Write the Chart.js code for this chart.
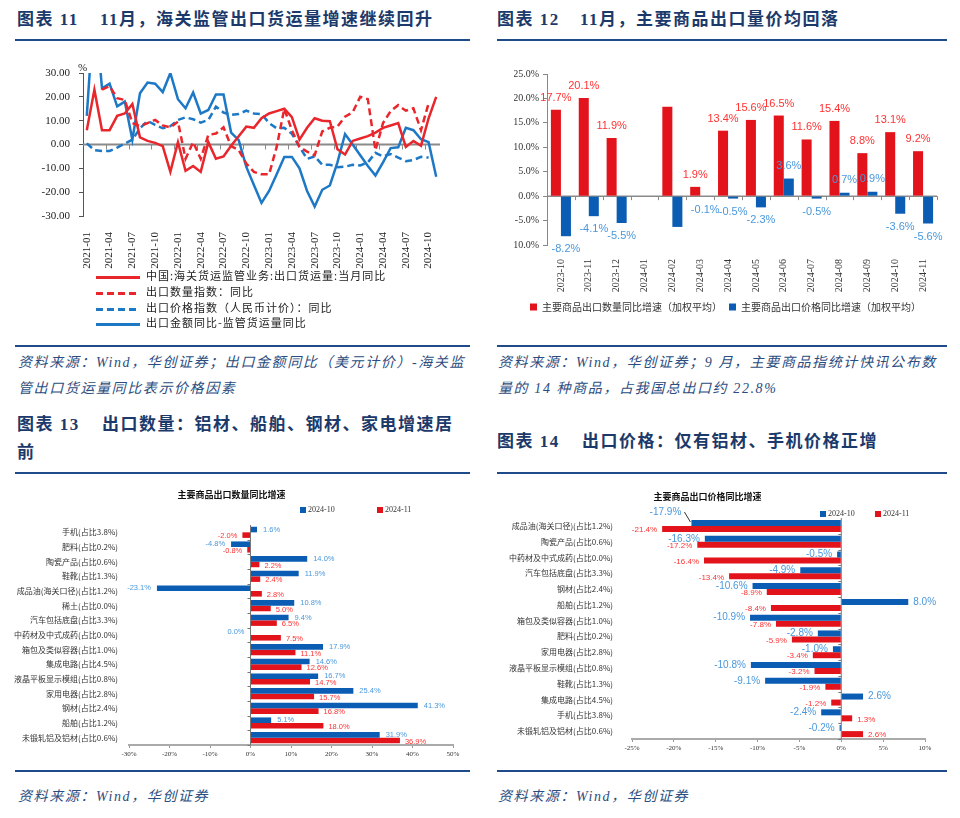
<!DOCTYPE html>
<html>
<head>
<meta charset="utf-8">
<script src="https://cdn.jsdelivr.net/npm/chart.js@4.4.1/dist/chart.umd.min.js"></script>
<style>
  body { margin: 0; background: #fff; }
  #page { position: relative; width: 960px; height: 818px; overflow: hidden; font-family: "Liberation Serif", "Noto Sans CJK SC", serif; }
  .ttl { position: absolute; font-weight: bold; font-size: 17px; letter-spacing: 1.5px; color: #1B3A6B; white-space: nowrap; line-height: 28px; }
  .rule { position: absolute; height: 2px; background: #1F4B8A; }
  .src { position: absolute; font-style: italic; font-size: 14px; letter-spacing: 1.6px; color: #2C4D80; line-height: 26px; white-space: nowrap; }
  .box { position: absolute; }
  .lg { position: absolute; left: 96px; height: 16px; line-height: 16px; font-family: "Noto Sans CJK SC"; font-size: 11px; letter-spacing: 1px; color: #222; white-space: nowrap; }
  .lg i { display: inline-block; width: 44px; height: 3px; vertical-align: middle; margin-right: 6px; }
  .lg2 { position: absolute; font-size: 8px; color: #333; white-space: nowrap; line-height: 10px; }
  .lg2 i { display: inline-block; width: 6px; height: 6px; margin-right: 2px; vertical-align: -0.5px; }
</style>
</head>
<body>
<div id="page">
  <div class="ttl" style="left:17px;top:6px">图表 11</div>
  <div class="ttl" style="left:100px;top:6px">11月，海关监管出口货运量增速继续回升</div>
  <div class="rule" style="left:15px;top:39px;width:455px"></div>
  <div class="ttl" style="left:497px;top:6px">图表 12</div>
  <div class="ttl" style="left:580px;top:6px">11月，主要商品出口量价均回落</div>
  <div class="rule" style="left:497px;top:39px;width:450px"></div>

  <div class="box" style="left:10px;top:45px"><canvas id="c11" width="460" height="225"></canvas></div>
  <div style="position:absolute;left:78px;top:61px;font-size:11px;color:#222">%</div>
  <div class="lg" style="top:267px"><i style="background:#E8262C"></i>中国:海关货运监管业务:出口货运量:当月同比</div>
  <div class="lg" style="top:283px"><i style="background:repeating-linear-gradient(90deg,#E8262C 0 7px,transparent 7px 11px)"></i>出口数量指数：同比</div>
  <div class="lg" style="top:299px"><i style="background:repeating-linear-gradient(90deg,#1D78C6 0 7px,transparent 7px 11px)"></i>出口价格指数（人民币计价）：同比</div>
  <div class="lg" style="top:314px"><i style="background:#1D78C6"></i>出口金额同比-监管货运量同比</div>

  <div class="box" style="left:490px;top:45px"><canvas id="c12" width="460" height="290"></canvas></div>

  <div class="rule" style="left:15px;top:345px;width:455px"></div>
  <div class="src" style="left:18px;top:350px">资料来源：Wind，华创证券；出口金额同比（美元计价）-海关监<br>管出口货运量同比表示价格因素</div>
  <div class="rule" style="left:497px;top:345px;width:450px"></div>
  <div class="src" style="left:498px;top:350px">资料来源：Wind，华创证券；9 月，主要商品指统计快讯公布数<br>量的 14 种商品，占我国总出口约 22.8%</div>

  <div class="ttl" style="left:17px;top:411px">图表 13</div>
  <div class="ttl" style="left:102px;top:411px">出口数量：铝材、船舶、钢材、家电增速居</div>
  <div class="ttl" style="left:17px;top:439px">前</div>
  <div class="rule" style="left:15px;top:472px;width:455px"></div>
  <div class="ttl" style="left:497px;top:428px">图表 14</div>
  <div class="ttl" style="left:582px;top:428px">出口价格：仅有铝材、手机价格正增</div>
  <div class="rule" style="left:497px;top:472px;width:450px"></div>

  <div class="box" style="left:10px;top:478px"><canvas id="c13" width="460" height="285"></canvas></div>
  <div class="lg2" style="left:300px;top:505px"><i style="background:#0B5DB4"></i>2024-10</div>
  <div class="lg2" style="left:377px;top:505px"><i style="background:#E3131B"></i>2024-11</div>
  <div class="box" style="left:490px;top:478px"><canvas id="c14" width="460" height="285"></canvas></div>
  <div class="lg2" style="left:820px;top:509px"><i style="background:#0B5DB4"></i>2024-10</div>
  <div class="lg2" style="left:875px;top:509px"><i style="background:#E3131B"></i>2024-11</div>

  <div class="rule" style="left:15px;top:770px;width:455px"></div>
  <div class="src" style="left:18px;top:784px">资料来源：Wind，华创证券</div>
  <div class="rule" style="left:497px;top:770px;width:450px"></div>
  <div class="src" style="left:498px;top:784px">资料来源：Wind，华创证券</div>
</div>

<script>
// ---- 图表11 数据 ----
const months11 = [
  '2021-01','2021-02','2021-03','2021-04','2021-05','2021-06','2021-07','2021-08','2021-09','2021-10','2021-11','2021-12',
  '2022-01','2022-02','2022-03','2022-04','2022-05','2022-06','2022-07','2022-08','2022-09','2022-10','2022-11','2022-12',
  '2023-01','2023-02','2023-03','2023-04','2023-05','2023-06','2023-07','2023-08','2023-09','2023-10','2023-11','2023-12',
  '2024-01','2024-02','2024-03','2024-04','2024-05','2024-06','2024-07','2024-08','2024-09','2024-10','2024-11'
];
const cargoVolume = [6, 23, 6, 6, 12, 13, 17, 3, 1.5, 0.7, -0.7, -11.5,
  1, -11, -9, -11.5, 1, -6, -5, -0.5, 3.5, 7.5, 7, 11,
  13, 14, 15, 11.5, 2, 7, 11, 10, 9.8, -2, -4.2, 1.5,
  2.5, 3.5, 5, 7, 8, 9, -1, 1.5, -0.5, 11, 20];
const qtyIndex = [null, null, 23, 24.5, 19.4, 18.7, 9, 7.7, 9, 10.3, 8, 7.2,
  9.6, -6, 1, -6, 4, 4.6, 7.2, -0.7, -2.4, -8, -11.5, -12.5,
  -12.5, -1, 15, 6, -1, -3, -4.5, 5.5, 7, 7.5, 11.7, 13.5,
  20, 19, -2.4, 9, 14, 16.5, 14.2, 15.2, 6, 17.3, null];
const priceIndex = [0.5, -2.4, -2.7, -2.7, -1.3, 0.4, 2, 6.8, 9.9, 8.2, 6.8, 7.7,
  10.3, 11.4, 10.6, 9.2, 10.3, 15.9, 13.4, 12.4, 12.8, 14.2, 13, 12.8,
  9, 6.8, 7, 4.5, -1, -6, -5, -8.5, -8.5, -9.5, -9.3, -8.5,
  -8.8, -7.5, -3.5, -5, -4, -5.5, -7, -6.5, -5.2, -5.5, null];
const valueMinusVolume = [12, 60, 23.6, 25.5, 16, 18, 2, 21.5, 26, 25.5, 22, 30,
  19, 15.2, 21.8, 13, 14.5, 21, 21, 5, 1.8, -9.4, -17, -24.5,
  -19.5, -12.5, -5.2, -5.2, -10, -19.5, -26, -19, -17.2, -7.5, 4.4, 0,
  -4.5, -9, -13, -7.5, -1.5, -1.2, 7, 6, 2.2, 1, -13.5];

// ---- 图表12 数据 ----
const months12 = ['2023-10','2023-11','2023-12','2024-01','2024-02','2024-03','2024-04',
  '2024-05','2024-06','2024-07','2024-08','2024-09','2024-10','2024-11'];
const qty12 = [17.7, 20.1, 11.9, null, 18.3, 1.9, 13.4, 15.6, 16.5, 11.6, 15.4, 8.8, 13.1, 9.2];
const price12 = [-8.2, -4.1, -5.5, null, -6.3, -0.1, -0.5, -2.3, 3.6, -0.5, 0.7, 0.9, -3.6, -5.6];
const unlabeled12 = ['2024-02'];

// ---- 图表13 数据 ----
const goods13 = ['手机(占比3.8%)','肥料(占比0.2%)','陶瓷产品(占比0.6%)','鞋靴(占比1.3%)','成品油(海关口径)(占比1.2%)',
  '稀土(占比0.0%)','汽车包括底盘(占比3.3%)','中药材及中式成药(占比0.0%)','箱包及类似容器(占比1.0%)','集成电路(占比4.5%)',
  '液晶平板显示模组(占比0.8%)','家用电器(占比2.8%)','钢材(占比2.4%)','船舶(占比1.2%)','未锻轧铝及铝材(占比0.6%)'];
const oct13 = [1.6, -4.8, 14.0, 11.9, -23.1, 10.8, 9.4, 0.0, 17.9, 14.6, 16.7, 25.4, 41.3, 5.1, 31.9];
const nov13 = [-2.0, -0.8, 2.2, 2.4, 2.8, 5.0, 6.5, 7.5, 11.1, 12.6, 14.7, 15.7, 16.8, 18.0, 36.9];

// ---- 图表14 数据 ----
const goods14 = ['成品油(海关口径)(占比1.2%)','陶瓷产品(占比0.6%)','中药材及中式成药(占比0.0%)','汽车包括底盘(占比3.3%)',
  '钢材(占比2.4%)','船舶(占比1.2%)','箱包及类似容器(占比1.0%)','肥料(占比0.2%)','家用电器(占比2.8%)',
  '液晶平板显示模组(占比0.8%)','鞋靴(占比1.3%)','集成电路(占比4.5%)','手机(占比3.8%)','未锻轧铝及铝材(占比0.6%)'];
const oct14 = [-17.9, -16.3, -0.5, -4.9, -10.6, 8.0, -10.9, -2.8, -1.0, -10.8, -9.1, 2.6, -2.4, -0.2];
const nov14 = [-21.4, -17.2, -16.4, -13.4, -8.9, -8.4, -7.8, -5.9, -3.4, -3.2, -1.9, -1.2, 1.3, 2.6];

const RED_LINE = '#E8262C', BLUE_LINE = '#1D78C6';
const RED_BAR = '#E3131B', BLUE_BAR = '#0B5DB4';
const LBL_RED = '#FF3232', LBL_BLUE = '#4A98DC';
const CJK = '"Noto Sans CJK SC"';

Chart.defaults.font.family = '"Liberation Serif", "Noto Sans CJK SC", serif';
Chart.defaults.color = '#222';
Chart.defaults.animation = false;
Chart.defaults.events = [];

// 零轴线 + 分类边界刻度
const zeroAxis = {
  id: 'zeroAxis',
  beforeDatasetsDraw(chart, args, o) {
    if (!o || !o.color) return;
    const {ctx, chartArea: a} = chart;
    const horiz = chart.options.indexAxis === 'y';
    const cat = chart.scales[horiz ? 'y' : 'x'];
    const z = chart.scales[horiz ? 'x' : 'y'].getPixelForValue(0);
    const n = chart.data.labels.length;
    ctx.save();
    ctx.strokeStyle = o.color;
    ctx.lineWidth = o.width;
    ctx.beginPath();
    if (horiz) { ctx.moveTo(z, a.top); ctx.lineTo(z, a.bottom); }
    else { ctx.moveTo(a.left, z); ctx.lineTo(a.right, z); }
    ctx.stroke();
    ctx.lineWidth = 1;
    ctx.beginPath();
    for (let k = o.every; k <= n; k += o.every) {
      const p = Math.round(cat.getPixelForValue(k - 0.5)) + 0.5;
      if (horiz) { ctx.moveTo(z, p); ctx.lineTo(z - o.tick, p); }
      else { ctx.moveTo(p, z); ctx.lineTo(p, z + o.tick); }
    }
    ctx.stroke();
    ctx.restore();
  }
};

// 柱端数值标签
const barLabels = {
  id: 'barLabels',
  afterDatasetsDraw(chart, args, o) {
    if (!o || !o.styles) return;
    const {ctx} = chart;
    const horiz = chart.options.indexAxis === 'y';
    chart.data.datasets.forEach((ds, di) => {
      const st = o.styles[di];
      const meta = chart.getDatasetMeta(di);
      ctx.save();
      ctx.font = st.font;
      ctx.fillStyle = st.color;
      ctx.textBaseline = 'middle';
      meta.data.forEach((el, i) => {
        const v = ds.data[i];
        if (v === null || (o.skip || []).includes(chart.data.labels[i])) return;
        const txt = v.toFixed(1) + '%';
        const c = o.callout;
        if (c && c.dataset === di && c.index === i) {
          ctx.textAlign = 'center';
          ctx.fillText(txt, el.x + c.dx, el.y + c.dy);
          ctx.strokeStyle = '#333';
          ctx.lineWidth = 1;
          ctx.beginPath();
          ctx.moveTo(el.x + c.lx, el.y + c.dy);
          ctx.lineTo(el.x - 1, el.y - 1);
          ctx.stroke();
          return;
        }
        if (horiz) {
          const left = v <= 0;
          ctx.textAlign = left ? 'right' : 'left';
          ctx.fillText(txt, el.x + (left ? -st.gap : st.gap), el.y + (st.dy || 0));
        } else {
          ctx.textAlign = 'center';
          ctx.fillText(txt, el.x, el.y + (v < 0 ? st.gap : -st.gap));
        }
      });
      ctx.restore();
    });
  }
};

// 图表11
new Chart(document.getElementById('c11'), {
  type: 'line',
  data: {
    labels: months11,
    datasets: [
      { label: '中国:海关货运监管业务:出口货运量:当月同比', data: cargoVolume, borderColor: RED_LINE, borderWidth: 2.5 },
      { label: '出口数量指数：同比', data: qtyIndex, borderColor: RED_LINE, borderWidth: 2.5, borderDash: [7, 4] },
      { label: '出口价格指数（人民币计价）：同比', data: priceIndex, borderColor: BLUE_LINE, borderWidth: 2.5, borderDash: [7, 4] },
      { label: '出口金额同比-监管货运量同比', data: valueMinusVolume, borderColor: BLUE_LINE, borderWidth: 2.5 }
    ]
  },
  options: {
    responsive: false,
    layout: { padding: { top: 28, right: 30, left: 0, bottom: 0 } },
    elements: { point: { radius: 0 }, line: { tension: 0 } },
    plugins: {
      legend: { display: false },
      tooltip: { enabled: false },
      zeroAxis: { color: '#8a8a8a', width: 2, every: 3, tick: 5 }
    },
    scales: {
      x: {
        offset: true,
        grid: { display: false },
        border: { display: false },
        ticks: {
          autoSkip: false, minRotation: 90, maxRotation: 90, padding: 8,
          font: { size: 11 },
          callback: (v, i) => (i % 3 === 0 ? months11[i] : '')
        },
        afterFit: s => { s.height = 54; }
      },
      y: {
        min: -30, max: 30,
        ticks: { stepSize: 10, padding: 9, font: { size: 11 }, callback: v => v.toFixed(2) },
        grid: { drawOnChartArea: false, tickLength: 4, color: '#555' },
        border: { color: '#555' },
        afterFit: s => { s.width = 73; }
      }
    }
  },
  plugins: [zeroAxis]
});

// 图表12
new Chart(document.getElementById('c12'), {
  type: 'bar',
  data: {
    labels: months12,
    datasets: [
      { label: '主要商品出口数量同比增速（加权平均）', data: qty12, backgroundColor: RED_BAR },
      { label: '主要商品出口价格同比增速（加权平均）', data: price12, backgroundColor: BLUE_BAR }
    ]
  },
  options: {
    responsive: false,
    layout: { padding: { top: 29, right: 13, bottom: 13, left: 24 } },
    datasets: { bar: { categoryPercentage: 0.72, barPercentage: 1 } },
    plugins: {
      legend: {
        position: 'bottom',
        labels: { boxWidth: 7, boxHeight: 7, padding: 7, color: '#333', font: { size: 10, family: CJK } }
      },
      tooltip: { enabled: false },
      zeroAxis: { color: '#8a8a8a', width: 1.5, every: 1, tick: 4 },
      barLabels: {
        skip: unlabeled12,
        styles: [
          { font: '11px "Liberation Sans"', color: LBL_RED, gap: 12 },
          { font: '11px "Liberation Sans"', color: LBL_BLUE, gap: 13 }
        ]
      }
    },
    scales: {
      x: {
        grid: { display: false },
        border: { display: false },
        ticks: { autoSkip: false, minRotation: 90, maxRotation: 90, padding: 6, color: '#333', font: { size: 10 } },
        afterFit: s => { s.height = 50; }
      },
      y: {
        min: -10, max: 25,
        ticks: { stepSize: 5, padding: 4, color: '#333', font: { size: 10 }, callback: v => v.toFixed(1) + '%' },
        grid: { drawOnChartArea: false, tickLength: 4, color: '#888' },
        border: { color: '#888' },
        afterFit: s => { s.width = 33; }
      }
    }
  },
  plugins: [zeroAxis, barLabels]
});

// 图表13 / 14 共用
function hbar(id, labels, oct, nov, title, xmin, xmax, step, pad, bigBlue, callout) {
  new Chart(document.getElementById(id), {
    type: 'bar',
    data: {
      labels: labels,
      datasets: [
        { label: '2024-10', data: oct, backgroundColor: BLUE_BAR },
        { label: '2024-11', data: nov, backgroundColor: RED_BAR }
      ]
    },
    options: {
      responsive: false,
      indexAxis: 'y',
      layout: { padding: { top: 0, right: pad.right, left: 0, bottom: 0 } },
      datasets: { bar: { categoryPercentage: 0.76, barPercentage: 1 } },
      plugins: {
        legend: { display: false },
        tooltip: { enabled: false },
        title: {
          display: true, text: title, color: '#111',
          font: { size: 9, weight: 'bold', family: CJK },
          padding: { top: pad.tTop, bottom: pad.tBottom }
        },
        zeroAxis: { color: '#777', width: 1, every: 1, tick: 3 },
        barLabels: {
          callout: callout,
          styles: [
            { font: (bigBlue ? '10px' : '7.5px') + ' "Liberation Sans"', color: LBL_BLUE, gap: bigBlue ? 5 : 6 },
            { font: (bigBlue ? '8px' : '7.5px') + ' "Liberation Sans"', color: LBL_RED, gap: 5, dy: 1 }
          ]
        }
      },
      scales: {
        x: {
          min: xmin, max: xmax,
          ticks: { stepSize: step, padding: 2, color: '#333', font: { size: 7 }, callback: v => v + '%' },
          grid: { drawOnChartArea: false, tickLength: 3, color: '#999' },
          border: { color: '#aaa', width: 2 },
          afterFit: s => { s.height = pad.xh; }
        },
        y: {
          grid: { display: false, drawTicks: false },
          border: { display: false },
          ticks: { autoSkip: false, padding: pad.lbl, color: '#333', font: { size: 8, family: CJK } },
          afterFit: s => { s.width = pad.yw; }
        }
      }
    },
    plugins: [zeroAxis, barLabels]
  });
}

hbar('c13', goods13, oct13, nov13, '主要商品出口数量同比增速', -30, 50, 10,
  { right: 17, tTop: 11.6, tBottom: 24.6, xh: 18, yw: 119, lbl: 11 }, false, null);
hbar('c14', goods14, oct14, nov14, '主要商品出口价格同比增速', -25, 10, 5,
  { right: 25, tTop: 13.6, tBottom: 15.7, xh: 24, yw: 142, lbl: 19 }, true,
  { dataset: 0, index: 0, dx: -26, dy: -11, lx: -7 });
</script>
</body>
</html>
